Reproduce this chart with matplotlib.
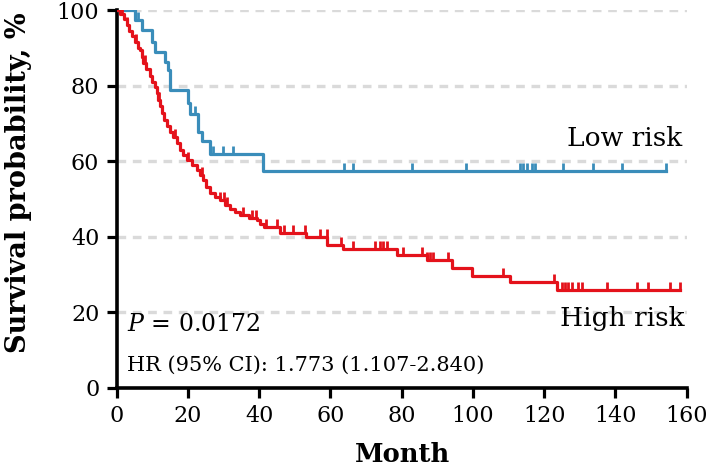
import numpy as np
import matplotlib.pyplot as plt

# Kaplan-Meier steps (month, survival %)
low_t = [0, 5.0, 7.0, 9.8, 10.8, 13.6, 14.5, 15.1, 20.1, 20.6, 22.9, 23.9, 26.2, 41.2, 154.2]
low_s = [100, 97.3, 94.6, 91.5, 88.9, 86.2, 84.0, 78.9, 75.5, 72.4, 67.7, 65.3, 61.8, 57.3, 57.3]
low_cens = [0.8, 1.5, 2.2, 3.0, 3.8, 4.4, 6.0, 22.0, 27.0, 29.9, 32.7, 63.8, 66.4, 82.8,
            98.0, 113.2, 114.1, 115.1, 116.5, 117.4, 125.4, 133.8, 141.8, 154.2]

high_t = [0, 0.9, 2.0, 2.8, 3.5, 4.2, 5.0, 6.0, 6.5, 7.0, 7.5, 8.3, 9.3, 10.0, 10.8, 11.2,
          11.7, 12.2, 12.6, 13.3, 14.0, 15.0, 15.9, 16.8, 17.8, 18.7, 19.6, 21.0, 22.5, 23.4,
          24.3, 25.2, 26.2, 27.5, 29.0, 30.4, 31.8, 33.2, 34.6, 37.0, 39.3, 40.2, 41.4, 45.8,
          53.0, 59.0, 63.6, 78.6, 87.0, 94.0, 99.6, 110.4, 123.5, 158.1]
high_s = [100, 99.0, 97.5, 96.0, 94.5, 93.0, 91.5, 90.0, 89.3, 87.5, 86.0, 84.5, 82.5, 81.0,
          79.6, 78.0, 76.3, 74.5, 72.8, 71.0, 69.2, 67.8, 66.5, 64.8, 63.0, 61.5, 60.2, 59.0,
          57.6, 56.2, 55.0, 53.2, 51.6, 50.5, 49.7, 48.3, 47.2, 46.5, 45.7, 45.0, 44.4, 43.4,
          42.6, 41.0, 39.9, 37.8, 36.6, 35.1, 33.8, 31.6, 29.7, 27.9, 25.8, 25.8]
high_cens = [1.5, 3.0, 5.5, 8.0, 12.0, 16.5, 20.0, 24.0, 29.0, 30.0, 31.0, 35.5, 38.0, 39.0,
             42.0, 44.9, 47.0, 49.5, 52.9, 57.1, 58.9, 62.9, 66.4, 72.5, 73.9, 74.8, 75.8,
             80.5, 85.6, 87.0, 87.9, 88.9, 93.1, 108.5, 122.8, 124.9, 125.8, 126.8, 127.7,
             129.6, 130.5, 137.5, 146.0, 149.2, 155.3, 158.1]

blue = '#3a8dba'
red = '#e4121b'

plt.rcParams['font.family'] = 'DejaVu Serif'
plt.rcParams['mathtext.fontset'] = 'dejavuserif'

fig = plt.figure(figsize=(7.09, 4.70), dpi=100)
ax = fig.add_axes([0.1646, 0.1751, 0.8039, 0.8036])

for y in [20, 40, 60, 80, 100]:
    ax.axhline(y, color='#dadada', lw=2.4, ls=(0, (2.6, 2.0)), zorder=0)


def surv_at(t_list, s_list, t):
    idx = np.searchsorted(t_list, t, side='right') - 1
    return s_list[idx]


tick = [(0, 0), (0, 1)]
for t, s, c, col in [(low_t, low_s, low_cens, blue), (high_t, high_s, high_cens, red)]:
    ax.step(t, s, where='post', color=col, lw=2.3, zorder=3)
    cy = [surv_at(t, s, x) for x in c]
    ax.plot(c, cy, ls='none', marker=tick, markersize=11, mec=col, mew=2.0, zorder=3)

ax.set_xlim(0, 160)
ax.set_ylim(0, 100)
ax.set_xticks(range(0, 161, 20))
ax.set_yticks(range(0, 101, 20))
for side in ['top', 'right']:
    ax.spines[side].set_visible(False)
for side in ['left', 'bottom']:
    ax.spines[side].set_linewidth(2.6)
    ax.spines[side].set_capstyle('projecting')
ax.tick_params(width=2.3, length=7.5, labelsize=16, pad=5)
ax.patch.set_alpha(0)

ax.text(158.8, 64, 'Low risk', ha='right', va='baseline', fontsize=19)
ax.text(159.5, 16.3, 'High risk', ha='right', va='baseline', fontsize=19)
ax.text(2.8, 15.1, r'$P$ = 0.0172', ha='left', va='baseline', fontsize=17)
ax.text(2.8, 4.5, 'HR (95% CI): 1.773 (1.107-2.840)', ha='left', va='baseline', fontsize=15)

fig.text(19 / 709, 1 - 183 / 470, 'Survival probability, %', rotation=90,
         ha='center', va='center', fontsize=19.5, fontweight='bold')
fig.text(402 / 709, 1 - 455 / 470, 'Month', ha='center', va='center',
         fontsize=18.5, fontweight='bold')

fig.savefig('out.png', dpi=100)
